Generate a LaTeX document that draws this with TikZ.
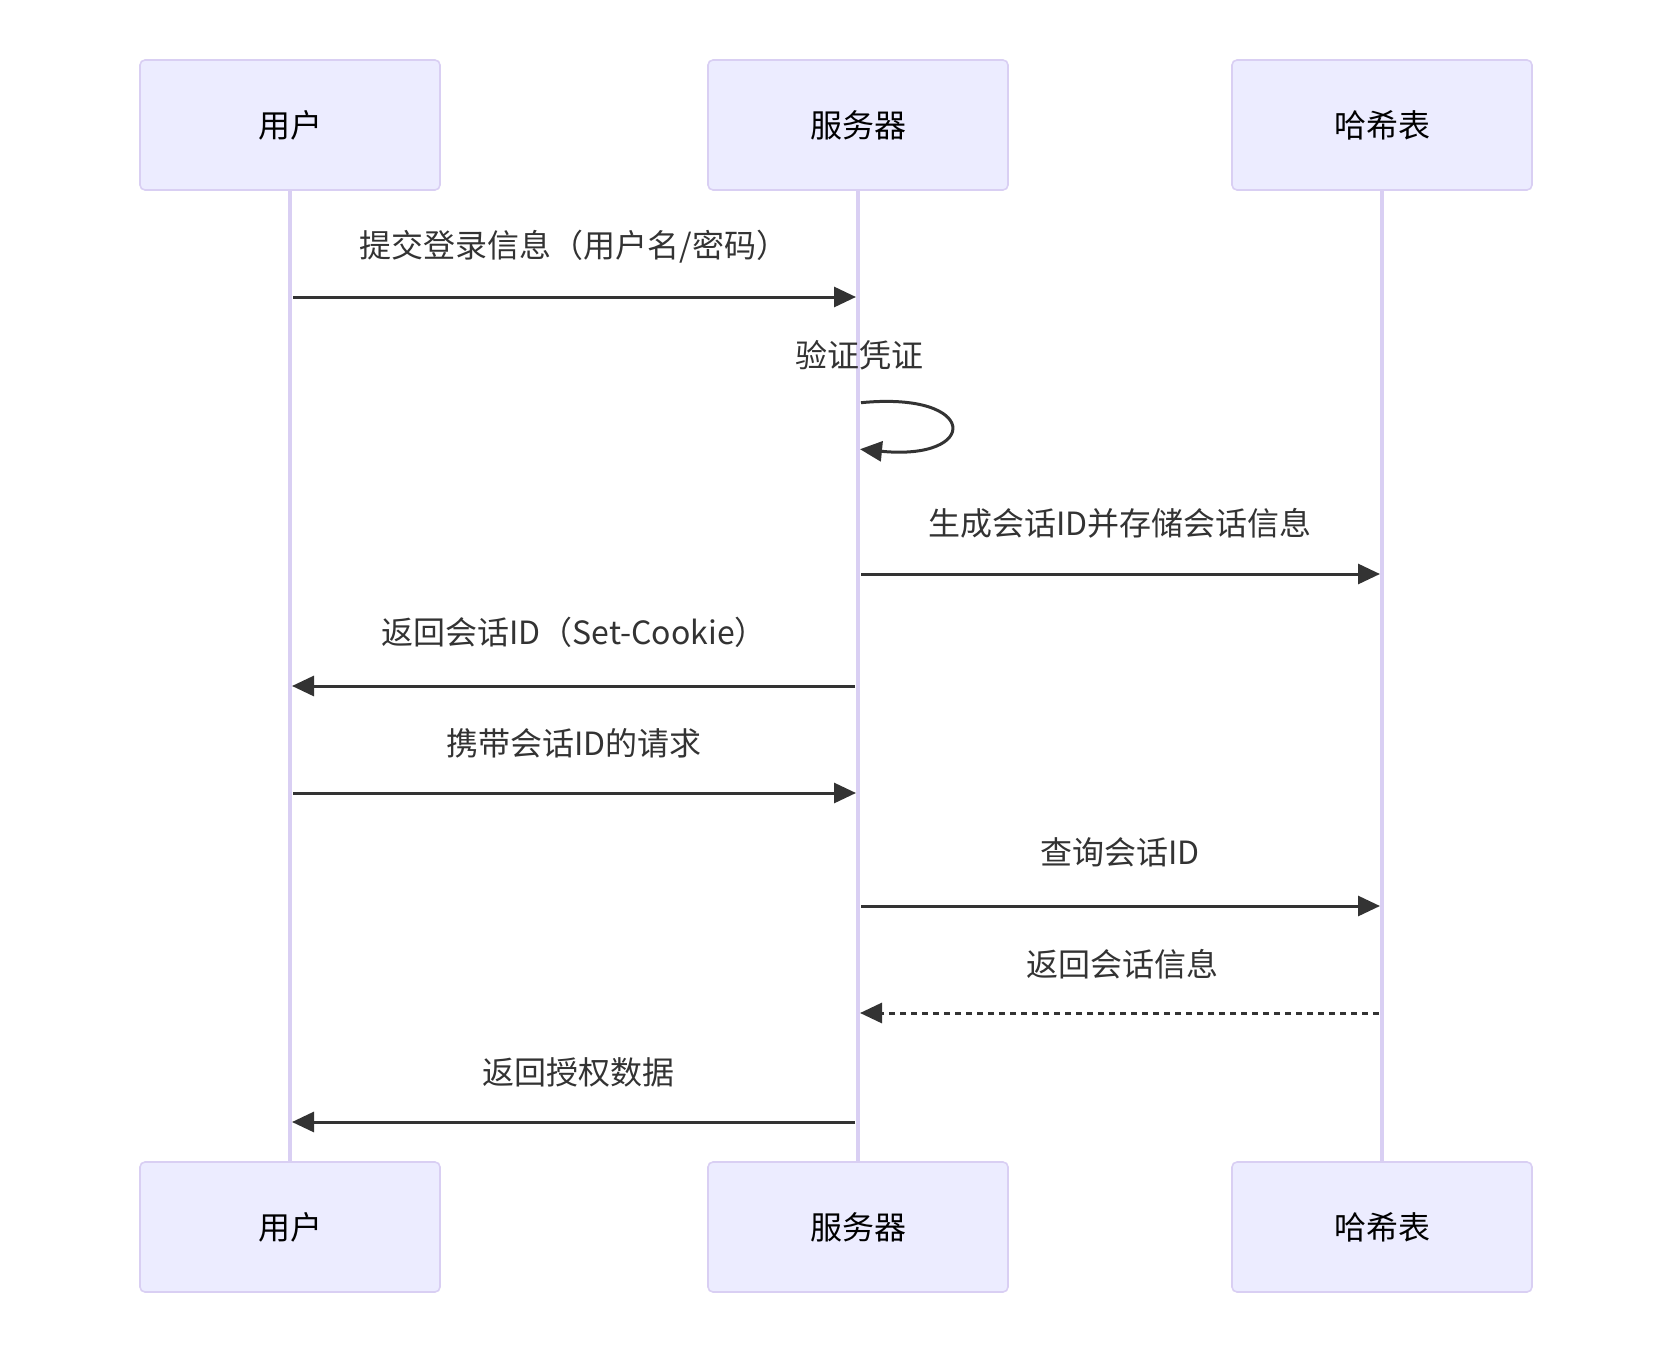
\documentclass[tikz,border=0pt]{standalone}
\usepackage{fontspec}
\setmainfont{Noto Sans CJK SC}
\usetikzlibrary{arrows.meta}
\definecolor{actorfill}{HTML}{ECECFF}
\definecolor{actorline}{HTML}{D9CFF3}
\definecolor{msgtext}{HTML}{333333}

\begin{document}
\begin{tikzpicture}[x=0.5pt, y=-0.5pt,
  actor/.style={draw=actorline, line width=0.8pt, fill=actorfill, rounded corners=2.5pt,
    minimum width=150pt, minimum height=65pt, text=black, font=\fontsize{16}{18}\selectfont},
  lifeline/.style={draw=actorline, line width=2pt},
  msg/.style={draw=msgtext, line width=1.5pt, -{Triangle[length=11pt,width=10pt]}},
  reply/.style={msg, dash pattern=on 3pt off 2.5pt},
  msglabel/.style={text=msgtext, font=\fontsize{16}{18}\selectfont}]
\useasboundingbox (0,0) rectangle (1672,1354);

% Actors
\node[actor] (user) at (290,125) {用户};
\node[actor] (server) at (858,125) {服务器};
\node[actor] (hash) at (1382,125) {哈希表};
\node[actor] (userB) at (290,1227) {用户};
\node[actor] (serverB) at (858,1227) {服务器};
\node[actor] (hashB) at (1382,1227) {哈希表};

% Lifelines
\draw[lifeline] (user) -- (userB);
\draw[lifeline] (server) -- (serverB);
\draw[lifeline] (hash) -- (hashB);

% Message points on the lifelines
\coordinate (u1) at (user |- 0,297);
\coordinate (s1) at (server |- 0,297);
\coordinate (s2a) at (server |- 0,403);
\coordinate (s2b) at (server |- 0,449);
\coordinate (s3) at (server |- 0,574);
\coordinate (h3) at (hash |- 0,574);
\coordinate (s4) at (server |- 0,686);
\coordinate (u4) at (user |- 0,686);
\coordinate (u5) at (user |- 0,793);
\coordinate (s5) at (server |- 0,793);
\coordinate (s6) at (server |- 0,906);
\coordinate (h6) at (hash |- 0,906);
\coordinate (h7) at (hash |- 0,1013);
\coordinate (s7) at (server |- 0,1013);
\coordinate (s8) at (server |- 0,1122);
\coordinate (u8) at (user |- 0,1122);

% Labels
\node[msglabel] (l1) at (574,247) {提交登录信息（用户名/密码）};
\node[msglabel] (l2) at (859,355) {验证凭证};
\node[msglabel] (l3) at (1120,523) {生成会话ID并存储会话信息};
\node[msglabel] (l4) at (574,632) {返回会话ID（Set-Cookie）};
\node[msglabel] (l5) at (574,743) {携带会话ID的请求};
\node[msglabel] (l6) at (1120,852) {查询会话ID};
\node[msglabel] (l7) at (1122,964) {返回会话信息};
\node[msglabel] (l8) at (578,1072) {返回授权数据};

% Messages
\draw[msg, shorten <=1.5pt, shorten >=1pt] (u1) -- (s1);
\draw[msg, shorten <=1.5pt, shorten >=1pt] (s2a) .. controls (980,391) and (980,461) .. (s2b);
\draw[msg, shorten <=1.5pt, shorten >=1pt] (s3) -- (h3);
\draw[msg, shorten <=1.5pt, shorten >=1pt] (s4) -- (u4);
\draw[msg, shorten <=1.5pt, shorten >=1pt] (u5) -- (s5);
\draw[msg, shorten <=1.5pt, shorten >=1pt] (s6) -- (h6);
\draw[reply, shorten <=1.5pt, shorten >=1pt] (h7) -- (s7);
\draw[msg, shorten <=1.5pt, shorten >=1pt] (s8) -- (u8);
\end{tikzpicture}
\end{document}
